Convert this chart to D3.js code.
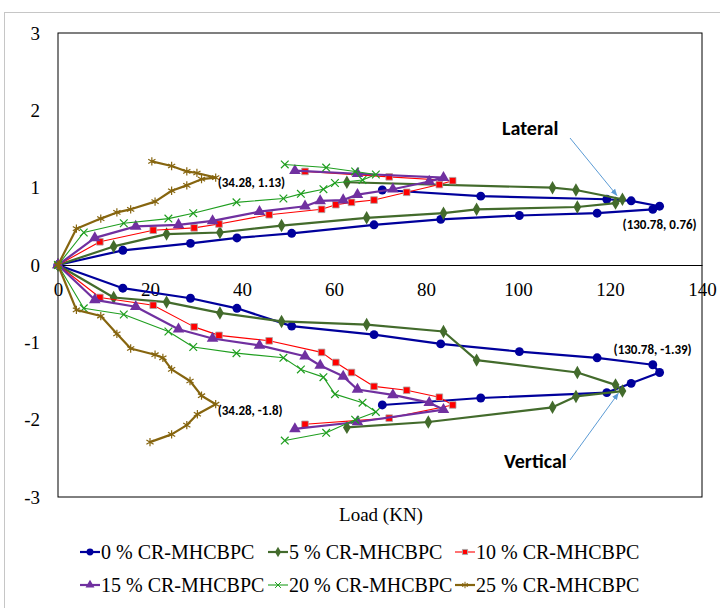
<!DOCTYPE html>
<html>
<head>
<meta charset="utf-8">
<script src="https://cdn.jsdelivr.net/npm/d3@7"></script>
<style>
  body { margin: 0; background: #fff; }
</style>
</head>
<body>
<svg id="chart" width="720" height="608"></svg>
<script>
// [load (KN), displacement] pairs, lateral (+) and vertical (-) branches
const lat0 = [[0,0],[14.1,0.19],[28.8,0.28],[38.9,0.35],[50.8,0.41],[68.7,0.52],[83.2,0.59],[100.3,0.64],[117.2,0.67],[129.3,0.72],[130.78,0.76],[124.6,0.83],[119.3,0.85],[91.9,0.89],[70.5,0.97]];
const ver0 = [[0,0],[14.1,-0.30],[28.8,-0.43],[38.9,-0.56],[50.8,-0.79],[68.7,-0.90],[83.2,-1.02],[100.3,-1.12],[117.2,-1.20],[129.3,-1.29],[130.78,-1.39],[124.6,-1.53],[119.3,-1.65],[91.9,-1.72],[70.5,-1.81]];

const lat5 = [[0,0],[12.1,0.24],[23.6,0.40],[35.2,0.42],[48.6,0.51],[67.1,0.61],[83.8,0.67],[91.0,0.72],[112.9,0.75],[121.2,0.80],[122.7,0.85],[112.6,0.97],[107.5,1.00],[62.8,1.07]];
const ver5 = [[0,0],[12.1,-0.42],[23.6,-0.48],[35.2,-0.62],[48.6,-0.73],[67.1,-0.77],[83.8,-0.86],[91.0,-1.23],[112.9,-1.39],[121.2,-1.55],[122.7,-1.63],[112.6,-1.70],[107.5,-1.84],[80.5,-2.03],[62.8,-2.10]];

const lat10 = [[0,0],[9.1,0.30],[20.7,0.45],[29.6,0.48],[35.0,0.53],[45.9,0.65],[57.3,0.72],[60.4,0.78],[63.8,0.81],[68.7,0.84],[75.8,0.94],[82.9,1.04],[85.8,1.09],[72.0,1.14],[53.7,1.21]];
const ver10 = [[0,0],[9.1,-0.42],[20.7,-0.52],[29.6,-0.80],[35.0,-0.91],[45.9,-0.98],[57.3,-1.13],[60.4,-1.26],[63.8,-1.39],[68.7,-1.57],[75.8,-1.62],[82.9,-1.71],[85.8,-1.81],[72.0,-1.98],[53.7,-2.06]];

const lat15 = [[0,0],[8.0,0.35],[16.9,0.50],[26.2,0.52],[33.6,0.57],[43.8,0.69],[53.7,0.76],[57.0,0.83],[62.0,0.84],[65.1,0.91],[72.8,0.98],[80.7,1.08],[83.8,1.13],[65.1,1.18],[51.5,1.22]];
const ver15 = [[0,0],[8.0,-0.45],[16.9,-0.54],[26.2,-0.83],[33.6,-0.95],[43.8,-1.04],[53.7,-1.18],[57.0,-1.30],[62.0,-1.44],[65.1,-1.61],[72.8,-1.68],[80.7,-1.78],[83.8,-1.87],[65.1,-2.03],[51.5,-2.12]];

const lat20 = [[0,0],[5.6,0.42],[14.3,0.54],[24.0,0.60],[29.4,0.67],[38.8,0.81],[49.0,0.86],[52.8,0.92],[57.7,0.98],[60.2,1.06],[66.2,1.10],[69.1,1.17],[64.6,1.21],[58.3,1.26],[49.3,1.30]];
const ver20 = [[0,0],[5.6,-0.56],[14.3,-0.64],[24.0,-0.86],[29.4,-1.06],[38.8,-1.14],[49.0,-1.20],[52.8,-1.35],[57.7,-1.45],[60.2,-1.67],[66.2,-1.78],[69.1,-1.90],[64.6,-2.00],[58.3,-2.17],[49.3,-2.27]];

const lat25 = [[0,0],[4.0,0.47],[9.3,0.60],[12.8,0.68],[15.8,0.72],[21.1,0.82],[24.7,0.96],[28.0,1.03],[31.2,1.11],[34.28,1.13],[30.2,1.19],[28.0,1.21],[24.7,1.28],[20.4,1.34]];
const ver25 = [[0,0],[4.0,-0.58],[9.3,-0.66],[12.8,-0.89],[15.8,-1.08],[21.1,-1.16],[22.8,-1.20],[24.7,-1.35],[28.7,-1.50],[31.2,-1.69],[34.28,-1.80],[30.3,-1.93],[28.0,-2.07],[24.7,-2.19],[20.0,-2.29]];

const seriesNames = ["0 % CR-MHCBPC", "5 % CR-MHCBPC", "10 % CR-MHCBPC", "15 % CR-MHCBPC", "20 % CR-MHCBPC", "25 % CR-MHCBPC"];
const lateralData = [lat0, lat5, lat10, lat15, lat20, lat25];
const verticalData = [ver0, ver5, ver10, ver15, ver20, ver25];
const xTicks = [0, 20, 40, 60, 80, 100, 120, 140];
const yTicks = [-3, -2, -1, 0, 1, 2, 3];

const styles = [
  { color: "#00009c", width: 2.2, symbol: d3.symbolCircle, size: 62, fill: "#00009c", stroke: "none" },
  { color: "#436b2c", width: 2.2, symbol: d3.symbolDiamond, size: 52, fill: "#436b2c", stroke: "none" },
  { color: "#ff0000", width: 1.1, symbol: d3.symbolSquare, size: 44, fill: "#ff0000", stroke: "#a8a8a8" },
  { color: "#7030a0", width: 2.2, symbol: d3.symbolTriangle, size: 58, fill: "#7030a0", stroke: "none" },
  { color: "#1f9e1f", width: 1.1, symbol: d3.symbolTimes, size: 40, fill: "none", stroke: "#1f9e1f" },
  { color: "#86650f", width: 2.2, symbol: d3.symbolAsterisk, size: 48, fill: "none", stroke: "#86650f" }
];

const svg = d3.select("#chart");
const serif = "'Liberation Serif', 'Times New Roman', serif";
const bold = "Carlito, 'Liberation Sans Narrow', 'Arial Narrow', 'Liberation Sans', sans-serif";

const x = d3.scaleLinear().domain([0, 140]).range([58, 702]);
const y = d3.scaleLinear().domain([-3, 3]).range([497, 33]);

// outer chart frame
svg.append("rect")
  .attr("x", 4.5).attr("y", 12.5)
  .attr("width", 760).attr("height", 700)
  .attr("fill", "none").attr("stroke", "#c6c6c6");

// plot area border
svg.append("rect")
  .attr("x", x(0)).attr("y", y(3))
  .attr("width", x(140) - x(0)).attr("height", y(-3) - y(3))
  .attr("fill", "none").attr("stroke", "#000").attr("stroke-width", 1);

// axes
const xAxis = svg.append("g")
  .attr("transform", `translate(0,${y(0)})`)
  .call(d3.axisBottom(x).tickValues(xTicks).tickSize(0).tickPadding(18).tickFormat(d => String(d)));
xAxis.select(".domain").attr("stroke", "#000").attr("stroke-width", 1.2);

const yAxis = svg.append("g")
  .attr("transform", `translate(${x(0)},0)`)
  .call(d3.axisLeft(y).tickValues(yTicks).tickSize(0).tickPadding(18).tickFormat(d => String(d)));
yAxis.select(".domain").remove();

[xAxis, yAxis].forEach(a => a.attr("font-family", serif).attr("font-size", 19));
svg.selectAll(".tick text")
  .style("font-family", serif).style("font-size", "19px").attr("fill", "#000");

// x axis title
svg.append("text")
  .attr("x", 381).attr("y", 521)
  .attr("text-anchor", "middle")
  .style("font-family", serif).style("font-size", "19px")
  .text("Load (KN)");

const line = d3.line().x(d => x(d[0])).y(d => y(d[1]));

function drawSeries(data, st) {
  const g = svg.append("g");
  g.append("path")
    .datum(data)
    .attr("d", line)
    .attr("fill", "none")
    .attr("stroke", st.color)
    .attr("stroke-width", st.width)
    .attr("stroke-linejoin", "round");
  g.selectAll("path.m")
    .data(data)
    .enter().append("path")
    .attr("class", "m")
    .attr("transform", d => `translate(${x(d[0])},${y(d[1])})`)
    .attr("d", d3.symbol().type(st.symbol).size(st.size))
    .attr("fill", st.fill)
    .attr("stroke", st.stroke)
    .attr("stroke-width", st.fill === "none" ? 1.2 : 0.8);
}

seriesNames.forEach((name, i) => {
  drawSeries(lateralData[i], styles[i]);
  drawSeries(verticalData[i], styles[i]);
});

// peak annotations
const notes = [
  { p: [130.78, 0.76], dx: -37, dy: 23, t: "(130.78, 0.76)" },
  { p: [130.78, -1.39], dx: -46, dy: -18, t: "(130.78, -1.39)" },
  { p: [34.28, 1.13], dx: 2, dy: 9, t: "(34.28, 1.13)" },
  { p: [34.28, -1.8], dx: 2, dy: 11, t: "(34.28, -1.8)" }
];
svg.selectAll("text.note")
  .data(notes)
  .enter().append("text")
  .attr("class", "note")
  .attr("x", d => x(d.p[0]) + d.dx)
  .attr("y", d => y(d.p[1]) + d.dy)
  .style("font-family", bold).style("font-size", "13px").style("font-weight", "bold")
  .text(d => d.t);

// Lateral / Vertical callouts
svg.append("defs").append("marker")
  .attr("id", "arr").attr("viewBox", "0 0 10 10")
  .attr("refX", 9).attr("refY", 5)
  .attr("markerWidth", 7).attr("markerHeight", 7)
  .attr("orient", "auto")
  .append("path").attr("d", "M0,1 L10,5 L0,9 Z").attr("fill", "#5b9bd5");

const callouts = [
  { t: "Lateral", tx: 502, ty: 135, from: [570, 138], to: [121.5, 0.9] },
  { t: "Vertical", tx: 504, ty: 468, from: [570, 460], to: [121.8, -1.66] }
];
callouts.forEach(c => {
  svg.append("line")
    .attr("x1", c.from[0]).attr("y1", c.from[1])
    .attr("x2", x(c.to[0])).attr("y2", y(c.to[1]))
    .attr("stroke", "#5b9bd5").attr("stroke-width", 1)
    .attr("marker-end", "url(#arr)");
  svg.append("text")
    .attr("x", c.tx).attr("y", c.ty)
    .style("font-family", bold).style("font-size", "20px").style("font-weight", "bold")
    .text(c.t);
});

// legend
const legend = svg.selectAll(".legend")
  .data(seriesNames)
  .enter().append("g")
  .attr("class", "legend")
  .attr("transform", (d, i) => `translate(${[80, 268, 455][i % 3]}, ${i < 3 ? 552 : 585})`);

legend.append("line")
  .attr("x1", 0).attr("x2", 20)
  .attr("stroke", (d, i) => styles[i].color)
  .attr("stroke-width", (d, i) => styles[i].width);

legend.append("path")
  .attr("transform", "translate(10,0)")
  .attr("d", (d, i) => d3.symbol().type(styles[i].symbol).size(styles[i].size * 0.6)())
  .attr("fill", (d, i) => styles[i].fill)
  .attr("stroke", (d, i) => styles[i].stroke)
  .attr("stroke-width", 1);

legend.append("text")
  .attr("x", 21).attr("y", 7)
  .style("font-family", serif).style("font-size", "20px")
  .text(d => d);
</script>
</body>
</html>
